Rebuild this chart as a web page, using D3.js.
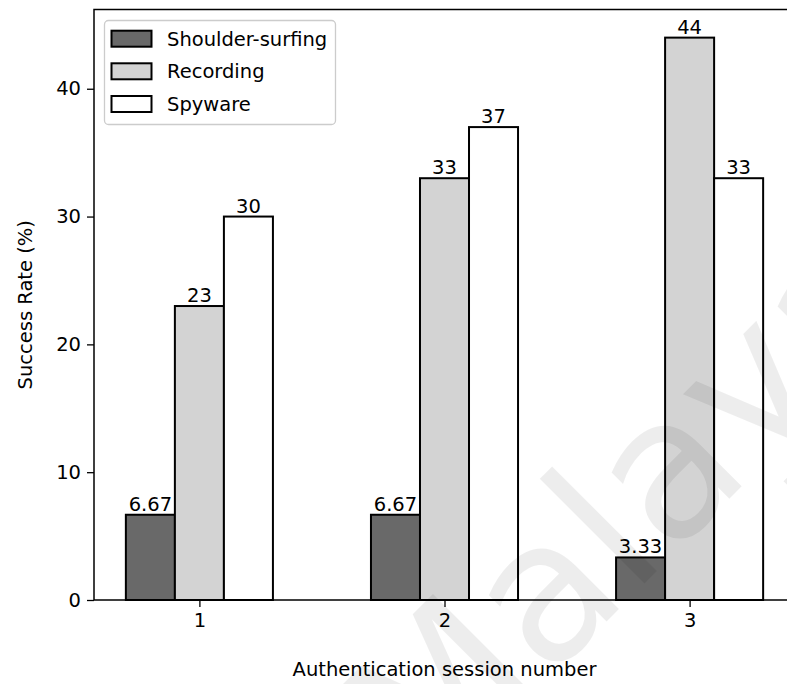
<!DOCTYPE html>
<html>
<head>
<meta charset="utf-8">
<script src="https://cdn.jsdelivr.net/npm/d3@7"></script>
<style>
  html, body { margin: 0; padding: 0; background: #fff; }
  svg { display: block; }
  text { font-family: "DejaVu Sans", sans-serif; fill: #000; }
</style>
</head>
<body>
<svg id="chart" width="787" height="684"></svg>
<script>
const sessions = [1, 2, 3];
const seriesNames = ["Shoulder-surfing", "Recording", "Spyware"];
const shoulderSurfing = [6.67, 6.67, 3.33];
const recording = [23, 33, 44];
const spyware = [30, 37, 33];
const yTicks = [0, 10, 20, 30, 40];
const xLabel = "Authentication session number";
const yLabel = "Success Rate (%)";
const watermark = "Malaya";

const seriesValues = [shoulderSurfing, recording, spyware];
const colors = ["#696969", "#d3d3d3", "#ffffff"];
const barW = 0.2;

const svg = d3.select("#chart");
const pLeft = 94, pRight = 795, pTop = 9.5, pBottom = 600;
const fs = "19.5px";

const x = d3.scaleLinear().domain([0.57, 3.43]).range([pLeft, pRight]);
const y = d3.scaleLinear().domain([0, 46.2]).range([pBottom, pTop]);

// bars
seriesValues.forEach((vals, si) => {
  const off = (si - 1) * barW;
  const g = svg.append("g");
  g.selectAll("rect").data(vals).enter().append("rect")
    .attr("x", (d, i) => x(sessions[i] + off - barW / 2))
    .attr("width", (d, i) => x(sessions[i] + off + barW / 2) - x(sessions[i] + off - barW / 2))
    .attr("y", d => y(d))
    .attr("height", d => y(0) - y(d))
    .attr("fill", colors[si])
    .attr("stroke", "#000")
    .attr("stroke-width", 2);
  g.selectAll("text").data(vals).enter().append("text")
    .attr("x", (d, i) => x(sessions[i] + off))
    .attr("y", d => y(d) - 4)
    .attr("text-anchor", "middle")
    .style("font-size", fs)
    .text(d => String(d));
});

// spines
const spine = svg.append("g").attr("stroke", "#000").attr("stroke-width", 1.5).attr("fill", "none");
spine.append("rect").attr("x", pLeft).attr("y", pTop).attr("width", pRight - pLeft).attr("height", pBottom - pTop);

// y axis
const yAxis = svg.append("g").attr("transform", `translate(${pLeft},0)`)
  .call(d3.axisLeft(y).tickValues(yTicks).tickSize(7).tickPadding(6).tickFormat(d3.format("d")));
yAxis.select(".domain").remove();
yAxis.selectAll("line").attr("stroke", "#000").attr("stroke-width", 1.3);
yAxis.selectAll("text").style("font-size", fs).attr("font-family", "DejaVu Sans");

// x axis
const xAxis = svg.append("g").attr("transform", `translate(0,${pBottom})`)
  .call(d3.axisBottom(x).tickValues(sessions).tickSize(7).tickPadding(6).tickFormat(d3.format("d")));
xAxis.select(".domain").remove();
xAxis.selectAll("line").attr("stroke", "#000").attr("stroke-width", 1.3);
xAxis.selectAll("text").style("font-size", fs).attr("font-family", "DejaVu Sans");

// axis labels
svg.append("text").attr("x", x(2)).attr("y", 676).attr("text-anchor", "middle")
  .style("font-size", fs).text(xLabel);
svg.append("text").attr("transform", `translate(32,${(pTop + pBottom) / 2}) rotate(-90)`)
  .attr("text-anchor", "middle").style("font-size", fs).text(yLabel);

// legend
const lg = svg.append("g");
lg.append("rect").attr("x", 104.5).attr("y", 20.5).attr("width", 231).attr("height", 104)
  .attr("rx", 4).attr("fill", "#fff").attr("fill-opacity", 0.8).attr("stroke", "#cccccc").attr("stroke-width", 1.3);
const rowY = [38.7, 71.3, 104];
seriesNames.forEach((name, i) => {
  lg.append("rect").attr("x", 111.5).attr("y", rowY[i] - 8).attr("width", 40).attr("height", 16)
    .attr("fill", colors[i]).attr("stroke", "#000").attr("stroke-width", 2);
  lg.append("text").attr("x", 167).attr("y", rowY[i]).attr("dy", "0.36em")
    .style("font-size", fs).text(name);
});

// watermark
svg.append("text").attr("transform", "translate(428,800) rotate(-45)")
  .style("font-size", "195px").style("fill", "#000").style("fill-opacity", 0.07)
  .text(watermark);
</script>
</body>
</html>
